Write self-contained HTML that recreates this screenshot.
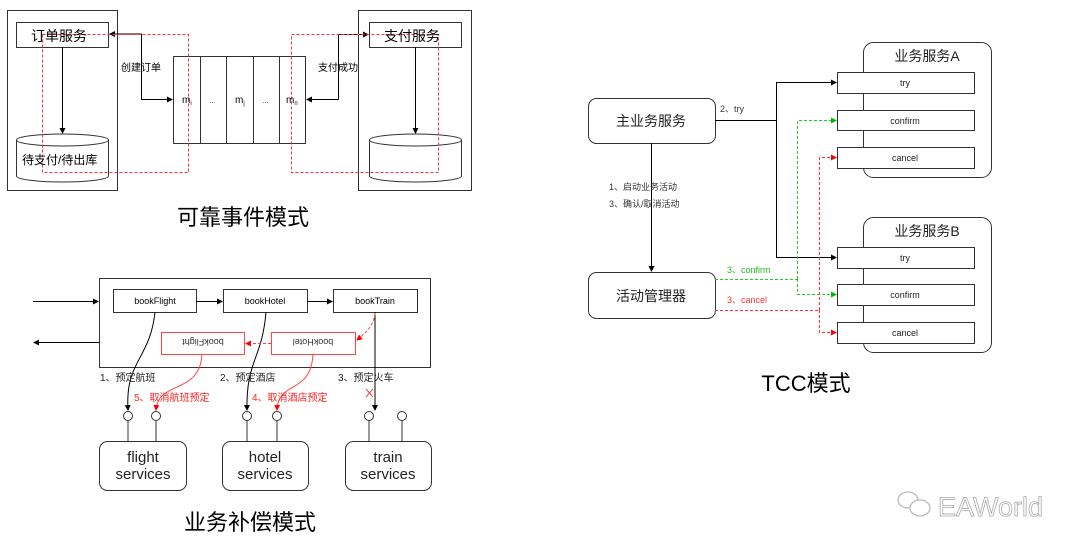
<!DOCTYPE html>
<html><head><meta charset="utf-8"><style>
body{margin:0;background:#fff}
svg{display:block}
text{font-family:"Liberation Sans","Noto Sans CJK SC",sans-serif}
</style></head><body>
<svg width="1080" height="552" viewBox="0 0 1080 552" xmlns="http://www.w3.org/2000/svg">
<defs>
<marker id="ab" markerWidth="6" markerHeight="6" refX="5" refY="3" orient="auto" markerUnits="userSpaceOnUse"><path d="M0,0L6,3L0,6z" fill="#000"/></marker>
<marker id="ar" markerWidth="6" markerHeight="6" refX="5" refY="3" orient="auto" markerUnits="userSpaceOnUse"><path d="M0,0L6,3L0,6z" fill="#f00"/></marker>
<marker id="ag" markerWidth="6" markerHeight="6" refX="5" refY="3" orient="auto" markerUnits="userSpaceOnUse"><path d="M0,0L6,3L0,6z" fill="#0b0"/></marker>
</defs>
<g fill="none" stroke="#333" stroke-width="1">
<!-- Reliable events -->
<rect x="7.5" y="10.5" width="110" height="180"/>
<rect x="16.5" y="22.5" width="92" height="25"/>
<path d="M16.5,140 v36 a46,6 0 0 0 92,0 v-36 a46,6 0 0 0 -92,0 a46,6 0 0 0 92,0"/>
<rect x="358.5" y="10.5" width="113" height="180"/>
<rect x="369.5" y="22.5" width="92" height="25"/>
<path d="M369.5,140 v36 a46,6 0 0 0 92,0 v-36 a46,6 0 0 0 -92,0 a46,6 0 0 0 92,0"/>
<rect x="173.5" y="56.5" width="132" height="87"/>
<path d="M200.5,56v87M226.5,56v87M253.5,56v87M279.5,56v87"/>
</g>
<g fill="none" stroke="#000">
<path d="M62.5,47v86" marker-end="url(#ab)"/>
<path d="M415.5,47v86" marker-end="url(#ab)"/>
<path d="M141.5,34H110" marker-end="url(#ab)"/>
<path d="M141.5,34V99.5H172" marker-end="url(#ab)"/>
<path d="M338.5,99.5H307" marker-end="url(#ab)"/>
<path d="M338.5,99.5V34.5H368" marker-end="url(#ab)"/>
</g>
<g fill="none" stroke="#f33" stroke-dasharray="3,2">
<rect x="42.5" y="34.5" width="146" height="138"/>
<rect x="291.5" y="34.5" width="147" height="138"/>
</g>
<g font-size="14" fill="#000">
<text x="31" y="41">订单服务</text>
<text x="384" y="41">支付服务</text>
</g>
<g font-size="10" fill="#000">
<text x="121" y="71">创建订单</text>
<text x="318" y="71">支付成功</text>
<text x="22" y="164" font-size="12">待支付/待出库</text>
<text x="182" y="103">m<tspan font-size="6" dy="2">i</tspan></text>
<text x="209" y="103" font-size="7">…</text>
<text x="235" y="103">m<tspan font-size="6" dy="2">j</tspan></text>
<text x="262" y="103" font-size="7">…</text>
<text x="286" y="103">m<tspan font-size="6" dy="2">n</tspan></text>
</g>
<text x="243" y="225" font-size="22" text-anchor="middle">可靠事件模式</text>

<!-- compensation -->
<g fill="none" stroke="#333">
<rect x="99.5" y="278.5" width="331" height="89"/>
<rect x="113.5" y="289.5" width="83" height="23"/>
<rect x="223.5" y="289.5" width="84" height="23"/>
<rect x="333.5" y="289.5" width="84" height="23"/>
<rect x="99.5" y="441.5" width="87" height="49" rx="8"/>
<rect x="222.5" y="441.5" width="86" height="49" rx="8"/>
<rect x="345.5" y="441.5" width="86" height="49" rx="8"/>
<circle cx="128" cy="416" r="4.5"/><circle cx="156" cy="416" r="4.5"/>
<circle cx="247" cy="416" r="4.5"/><circle cx="277" cy="416" r="4.5"/>
<circle cx="369" cy="416" r="4.5"/><circle cx="402" cy="416" r="4.5"/>
<path d="M128,420.5V441M156,420.5V441M247,420.5V441M277,420.5V441M369,420.5V441M402,420.5V441"/>
</g>
<g fill="none" stroke="#000">
<path d="M33,301.5H98" marker-end="url(#ab)"/>
<path d="M99,342.5H34" marker-end="url(#ab)"/>
<path d="M196,301.5H222" marker-end="url(#ab)"/>
<path d="M307,301.5H332" marker-end="url(#ab)"/>
<path d="M155,312 C150,360 125,360 128,410" marker-end="url(#ab)"/>
<path d="M266,312 C262,360 246,360 247,410" marker-end="url(#ab)"/>
<path d="M375,312 V410" marker-end="url(#ab)"/>
</g>
<g fill="none" stroke="#f44">
<rect x="161.5" y="332.5" width="83" height="22"/>
<rect x="271.5" y="332.5" width="84" height="22"/>
<path d="M202,354 C200,395 158,380 156,410" marker-end="url(#ar)"/>
<path d="M313,354 C311,395 278,380 277,410" marker-end="url(#ar)"/>
<path d="M375,313 C374,325 366,333 357,340" stroke-dasharray="3,2" marker-end="url(#ar)"/>
<path d="M271,343.5H246" stroke-dasharray="3,2" marker-end="url(#ar)"/>
<path d="M366,389l7,8M373,389l-7,8"/>
</g>
<g font-size="9" fill="#000" text-anchor="middle">
<text x="155" y="304">bookFlight</text>
<text x="265" y="304">bookHotel</text>
<text x="375" y="304">bookTrain</text>
<text transform="translate(203,339) rotate(180)" fill="#333">bookFlight</text>
<text transform="translate(313,339) rotate(180)" fill="#333">bookHotel</text>
</g>
<g font-size="10" fill="#222">
<text x="100" y="381">1、预定航班</text>
<text x="220" y="381">2、预定酒店</text>
<text x="338" y="381">3、预定火车</text>
<text x="134" y="401" fill="#f22">5、取消航班预定</text>
<text x="252" y="401" fill="#f22">4、取消酒店预定</text>
</g>
<g font-size="15" fill="#222" text-anchor="middle">
<text x="143" y="462">flight</text><text x="143" y="479">services</text>
<text x="265" y="462">hotel</text><text x="265" y="479">services</text>
<text x="388" y="462">train</text><text x="388" y="479">services</text>
</g>
<text x="250" y="530" font-size="22" text-anchor="middle">业务补偿模式</text>

<!-- TCC -->
<g fill="#fff" stroke="#333">
<rect x="588.5" y="98.5" width="127" height="45" rx="8"/>
<rect x="588.5" y="272.5" width="127" height="46" rx="8"/>
<rect x="863.5" y="42.5" width="128" height="135" rx="10"/>
<rect x="863.5" y="217.5" width="128" height="135" rx="10"/>
<rect x="837.5" y="72.5" width="137" height="21"/>
<rect x="837.5" y="110.5" width="137" height="20"/>
<rect x="837.5" y="147.5" width="137" height="21"/>
<rect x="837.5" y="247.5" width="137" height="21"/>
<rect x="837.5" y="284.5" width="137" height="21"/>
<rect x="837.5" y="322.5" width="137" height="21"/>
</g>
<g fill="none" stroke="#000">
<path d="M651.5,143V271" marker-end="url(#ab)"/>
<path d="M715,120.5H776.5V82.5H836" marker-end="url(#ab)"/>
<path d="M776.5,120V257.5H836" marker-end="url(#ab)"/>
</g>
<g fill="none" stroke="#2c2" stroke-dasharray="3,2">
<path d="M715,279.5H797.5"/>
<path d="M797.5,279V120.5H836" marker-end="url(#ag)"/>
<path d="M797.5,279V294.5H836" marker-end="url(#ag)"/>
</g>
<g fill="none" stroke="#f33" stroke-dasharray="3,2">
<path d="M715,310.5H819.5"/>
<path d="M819.5,310V157.5H836" marker-end="url(#ar)"/>
<path d="M819.5,310V332.5H836" marker-end="url(#ar)"/>
</g>
<g font-size="14" fill="#222" text-anchor="middle">
<text x="651" y="126">主业务服务</text>
<text x="651" y="301">活动管理器</text>
<text x="927" y="61">业务服务A</text>
<text x="927" y="236">业务服务B</text>
</g>
<g font-size="9" fill="#222" text-anchor="middle">
<text x="905" y="86">try</text>
<text x="905" y="124">confirm</text>
<text x="905" y="161">cancel</text>
<text x="905" y="261">try</text>
<text x="905" y="298">confirm</text>
<text x="905" y="336">cancel</text>
</g>
<g font-size="9" fill="#333">
<text x="720" y="112">2、try</text>
<text x="609" y="190">1、启动业务活动</text>
<text x="609" y="207">3、确认/取消活动</text>
<text x="727" y="273" fill="#2b2">3、confirm</text>
<text x="727" y="303" fill="#f33">3、cancel</text>
</g>
<text x="806" y="391" font-size="22" text-anchor="middle">TCC模式</text>

<!-- logo -->
<g fill="none" stroke="#bbb" stroke-width="1.3">
<ellipse cx="908" cy="500" rx="10" ry="8"/>
<ellipse cx="920" cy="508" rx="10" ry="8" fill="#fff"/>
</g>
<text x="938" y="516" font-size="27" fill="#fff" stroke="#aaa" stroke-width="0.8">EAWorld</text>
</svg>
</body></html>
